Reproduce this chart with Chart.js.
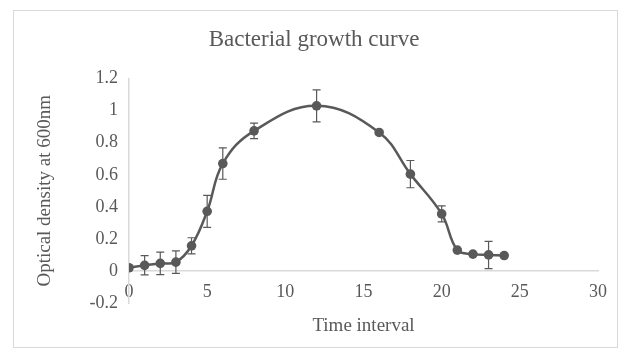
<!DOCTYPE html>
<html>
<head>
<meta charset="utf-8">
<script src="https://cdn.jsdelivr.net/npm/chart.js@4.4.1/dist/chart.umd.min.js"></script>
<style>
    html, body { margin: 0; padding: 0; background: #fff; }
    #frame {
        position: absolute; left: 13px; top: 10px; width: 605px; height: 338px;
        border: 1px solid #d9d9d9; box-sizing: border-box;
    }
    #wrap { position: absolute; left: 0; top: 0; width: 622px; height: 352px; }
</style>
</head>
<body>
<div id="frame"></div>
<div id="wrap"><canvas id="growthChart" width="622" height="352"></canvas></div>
<script>
const timePoints = [0, 1, 2, 3, 4, 5, 6, 8, 12, 16, 18, 20, 21, 22, 23, 24]
const odValues = [0.02, 0.035, 0.047, 0.055, 0.157, 0.372, 0.67, 0.874, 1.03, 0.864, 0.604, 0.356, 0.13, 0.105, 0.10, 0.096]
const odErrors = [0, 0.06, 0.07, 0.07, 0.05, 0.10, 0.098, 0.048, 0.10, 0.01, 0.085, 0.05, 0, 0, 0.085, 0]
const yTicks = [-0.2, 0, 0.2, 0.4, 0.6, 0.8, 1, 1.2]
const xTicks = [0, 5, 10, 15, 20, 25, 30]

const GREY = '#595959'
const FONT = "'Liberation Serif', 'Times New Roman', serif"

// error bars drawn through the chart's own scales
const errorBars = {
    id: 'errorBars',
    beforeDatasetsDraw(chart) {
        const ctx = chart.ctx
        const xs = chart.scales.x
        const ys = chart.scales.y
        ctx.save()
        ctx.strokeStyle = GREY
        ctx.lineWidth = 1.2
        timePoints.forEach((t, i) => {
            const err = odErrors[i]
            if (!err) return
            const px = xs.getPixelForValue(t)
            const top = ys.getPixelForValue(odValues[i] + err)
            const bot = ys.getPixelForValue(odValues[i] - err)
            ctx.beginPath()
            ctx.moveTo(px, top); ctx.lineTo(px, bot)
            ctx.moveTo(px - 4, top); ctx.lineTo(px + 4, top)
            ctx.moveTo(px - 4, bot); ctx.lineTo(px + 4, bot)
            ctx.stroke()
        })
        ctx.restore()
    }
}

const growthChart = new Chart(document.getElementById('growthChart'), {
    type: 'scatter',
    data: {
        datasets: [{
            data: timePoints.map((t, i) => ({ x: t, y: odValues[i] })),
            showLine: true,
            tension: 0.4,
            borderColor: GREY,
            borderWidth: 2.5,
            backgroundColor: GREY,
            pointRadius: 4.8,
            pointBorderWidth: 0
        }]
    },
    options: {
        responsive: false,
        animation: false,
        layout: { padding: { left: 30, right: 24, top: 14, bottom: 49 } },
        plugins: {
            legend: { display: false },
            tooltip: { enabled: false },
            title: {
                display: true,
                text: 'Bacterial growth curve',
                color: GREY,
                font: { family: FONT, size: 23, weight: 'normal' },
                padding: { top: 12, bottom: 25 }
            }
        },
        scales: {
            x: {
                type: 'linear',
                position: { y: 0 },
                min: 0,
                max: 30,
                afterBuildTicks: (scale) => { scale.ticks = xTicks.map(v => ({ value: v })) },
                grid: { display: false, drawTicks: false },
                border: { display: true, color: '#d9d9d9', width: 1.5 },
                ticks: { color: GREY, padding: 11, font: { family: FONT, size: 18 } },
                title: {
                    display: true,
                    text: 'Time interval',
                    color: GREY,
                    font: { family: FONT, size: 19 },
                    padding: { top: 0, bottom: 2 }
                }
            },
            y: {
                type: 'linear',
                position: 'left',
                min: -0.2,
                max: 1.2,
                afterBuildTicks: (scale) => { scale.ticks = yTicks.map(v => ({ value: v })) },
                afterFit: (scale) => { scale.width = 99 },
                grid: { display: false, drawTicks: false },
                border: { display: true, color: '#d9d9d9', width: 1.5 },
                ticks: {
                    color: GREY, padding: 11, font: { family: FONT, size: 18 },
                    callback: (v) => String(Math.round(v * 10) / 10)
                },
                title: {
                    display: true,
                    text: 'Optical density at 600nm',
                    color: GREY,
                    font: { family: FONT, size: 19 },
                    padding: { top: 4, bottom: 4 }
                }
            }
        }
    },
    plugins: [errorBars]
})
</script>
</body>
</html>
